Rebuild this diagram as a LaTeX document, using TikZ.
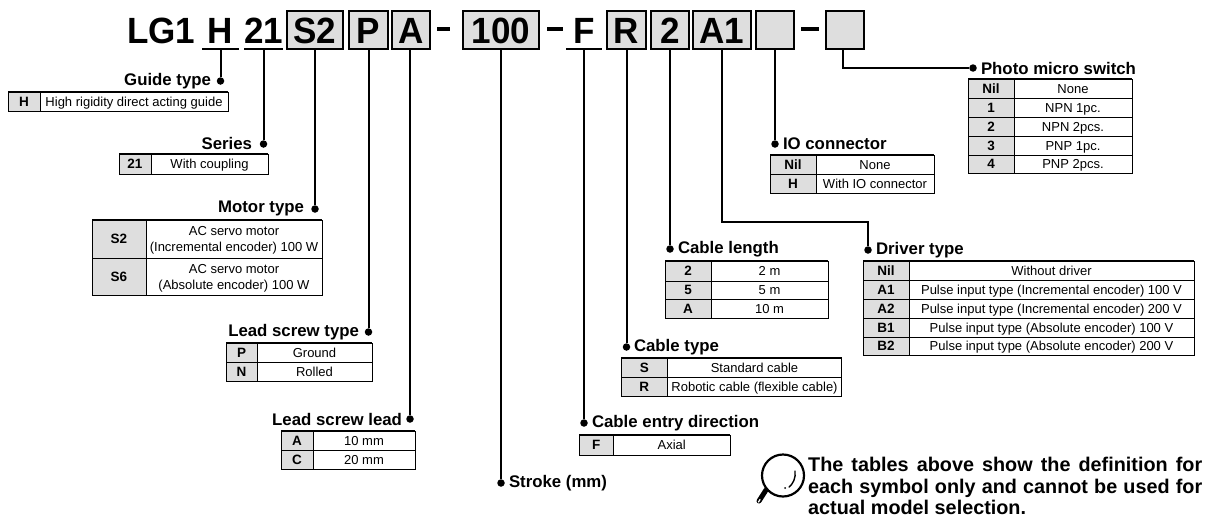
\documentclass[tikz,border=0pt]{standalone}
\usepackage{fontspec}
\setmainfont{Liberation Sans}
\newfontfamily\codefont{Liberation Sans}[FakeStretch=0.96]
\definecolor{keygray}{HTML}{DEDEDE}
\newcommand{\tsz}[2]{\fontsize{#1}{#2}\selectfont}
\newcommand{\rowstrut}{\rule[-2.6pt]{0pt}{14.6pt}}
\newcommand{\codestrut}{\rule[-4pt]{0pt}{34pt}}
\tikzset{
  code/.style={font=\codefont\bfseries\tsz{36.5}{38}, inner sep=0pt, outer sep=0pt},
  codebox/.style={code, draw=black, fill=keygray, line width=1.9pt},
  heading/.style={font=\bfseries\tsz{16.8}{18}, inner sep=0pt, outer sep=0pt},
  conn/.style={line width=2pt, black},
  dotmark/.style={circle, fill=black, inner sep=0pt, minimum size=7.5pt, outer sep=0pt},
  keycell/.style={draw=black, fill=keygray, line width=1pt, inner sep=0pt, outer sep=0pt, font=\bfseries\tsz{13.5}{15}},
  valcell/.style={draw=black, fill=white, line width=1pt, inner sep=0pt, outer sep=0pt, font=\tsz{13}{16}, align=center},
  topline/.style={line width=2pt, black},
  dashbar/.style={line width=3.2pt, black}
}
% \codeat{name}{x0}{x1}{y0}{y1}{style}{text}
\newcommand{\codeat}[7]{%
  \node[#6, minimum width={(#2-#1)*1pt}, minimum height={(#4-#3)*1pt}] (#5) at ({(#1+#2)/2},{(#3+#4)/2}) {\codestrut #7};}
% \trow{name}{x0}{xdiv}{x1}{ya}{yb}{key}{value}
\newcommand{\trow}[8]{%
  \node[keycell, minimum width={(#3-#2)*1pt}, minimum height={(#6-#5)*1pt}] (#1k) at ({(#2+#3)/2},{(#5+#6)/2}) {\rowstrut #7};
  \node[valcell, minimum width={(#4-#3)*1pt}, minimum height={(#6-#5)*1pt}] (#1v) at ({(#3+#4)/2},{(#5+#6)/2}) {\rowstrut #8\rowstrut};}
\begin{document}
\begin{tikzpicture}[x=1pt,y=-1pt]
\useasboundingbox (0,0) rectangle (1206,515);

% model code
\node[code, anchor=base west] (lg) at (127,43) {LG1};
\codeat{202}{239}{11}{49}{boxH}{code}{H}
\codeat{245}{282}{11}{49}{box21}{code}{21}
\codeat{287}{343}{11}{49}{boxS}{codebox}{S2}
\codeat{349}{388}{11}{49}{boxP}{codebox}{P}
\codeat{392}{430}{11}{49}{boxA}{codebox}{A}
\codeat{463}{539}{11}{49}{boxC}{codebox}{100}
\codeat{566}{602}{11}{49}{boxF}{code}{F}
\codeat{607}{646}{11}{49}{boxR}{codebox}{R}
\codeat{651}{689}{11}{49}{boxL}{codebox}{2}
\codeat{693}{751}{11}{49}{boxD}{codebox}{A1}
\codeat{756}{794}{11}{49}{boxI}{codebox}{}
\codeat{826}{864}{11}{49}{boxM}{codebox}{}

\draw[conn, line width=1.3pt] (boxH.south west) -- (boxH.south east);
\draw[conn, line width=1.3pt] (box21.south west) -- (box21.south east);
\draw[conn, line width=1.3pt] (boxF.south west) -- (boxF.south east);

% dashes
\coordinate (d1a) at (437,29); \coordinate (d1b) at (450,29);
\coordinate (d2a) at (547,29); \coordinate (d2b) at (563,29);
\coordinate (d3a) at (801,29); \coordinate (d3b) at (819,29);
\draw[dashbar] (d1a) -- (d1b);
\draw[dashbar] (d2a) -- (d2b);
\draw[dashbar] (d3a) -- (d3b);

% headings and dots
\node[heading, anchor=east] (hGuide) at (211,81) {Guide type};
\node[dotmark] (dGuide) at (220.5,81) {};
\node[heading, anchor=east] (hSeries) at (252,143.5) {Series};
\node[dotmark] (dSeries) at (263.5,144) {};
\node[heading, anchor=east] (hMotor) at (304,208) {Motor type};
\node[dotmark] (dMotor) at (315,209) {};
\node[heading, anchor=east] (hLtype) at (359,332) {Lead screw type};
\node[dotmark] (dLtype) at (368.5,332) {};
\node[heading, anchor=east] (hLlead) at (402,419) {Lead screw lead};
\node[dotmark] (dLlead) at (410,419) {};
\node[dotmark] (dStroke) at (501,483) {};
\node[heading, anchor=west] (hStroke) at (509,483) {Stroke (mm)};
\node[dotmark] (dEntry) at (584,423) {};
\node[heading, anchor=west] (hEntry) at (592,423) {Cable entry direction};
\node[dotmark] (dCtype) at (626.5,347) {};
\node[heading, anchor=west] (hCtype) at (634,347) {Cable type};
\node[dotmark] (dClen) at (670,249) {};
\node[heading, anchor=west] (hClen) at (678,249) {Cable length};
\node[dotmark] (dDrv) at (868,250) {};
\node[heading, anchor=west] (hDrv) at (876,250) {Driver type};
\node[dotmark] (dIO) at (775,144) {};
\node[heading, anchor=west] (hIO) at (783,144) {IO connector};
\node[dotmark] (dPho) at (973,68) {};
\node[heading, anchor=west] (hPho) at (981,68) {Photo micro switch};

% connectors
\draw[conn] (boxH.south) -- (dGuide);
\draw[conn] (box21.south) -- (dSeries);
\draw[conn] (boxS.south) -- (dMotor);
\draw[conn] (boxP.south) -- (dLtype);
\draw[conn] (dLlead |- boxA.south) -- (dLlead);
\draw[conn] (boxC.south) -- (dStroke);
\draw[conn] (boxF.south) -- (dEntry);
\draw[conn] (boxR.south) -- (dCtype);
\draw[conn] (boxL.south) -- (dClen);
\coordinate (cD) at (boxD.south |- 0,222);
\coordinate (cE) at (dDrv |- 0,222);
\draw[conn] (boxD.south) -- (cD) -- (cE) -- (dDrv);
\draw[conn] (boxI.south) -- (dIO);
\coordinate (cM) at (843,49);
\coordinate (cN) at (843,68);
\draw[conn] (cM) -- (cN) -- (dPho);

% tables
\trow{g1}{8}{40}{228}{92}{111}{H}{High rigidity direct acting guide}
\draw[topline] (g1k.north west) -- (g1v.north east);

\trow{s1}{119}{151}{268}{154}{174}{21}{With coupling}
\draw[topline] (s1k.north west) -- (s1v.north east);

\trow{m1}{92}{146}{322}{220}{258}{S2}{AC servo motor\\(Incremental encoder) 100 W}
\trow{m2}{92}{146}{322}{258}{295}{S6}{AC servo motor\\(Absolute encoder) 100 W}
\draw[topline] (m1k.north west) -- (m1v.north east);

\trow{p1}{226}{257}{372}{343}{362}{P}{Ground}
\trow{p2}{226}{257}{372}{362}{381}{N}{Rolled}
\draw[topline] (p1k.north west) -- (p1v.north east);

\trow{a1}{281}{313}{415}{431}{450}{A}{10 mm}
\trow{a2}{281}{313}{415}{450}{469}{C}{20 mm}
\draw[topline] (a1k.north west) -- (a1v.north east);

\trow{e1}{579}{613.5}{730}{435}{455}{F}{Axial}
\draw[topline] (e1k.north west) -- (e1v.north east);

\trow{c1}{621}{667.5}{841.5}{358}{377}{S}{Standard cable}
\trow{c2}{621}{667.5}{841.5}{377}{396}{R}{Robotic cable (flexible cable)}
\draw[topline] (c1k.north west) -- (c1v.north east);

\trow{l1}{665}{711}{828}{261}{281}{2}{2 m}
\trow{l2}{665}{711}{828}{281}{299}{5}{5 m}
\trow{l3}{665}{711}{828}{299}{318}{A}{10 m}
\draw[topline] (l1k.north west) -- (l1v.north east);

\trow{r1}{863}{909}{1194}{261}{280}{Nil}{Without driver}
\trow{r2}{863}{909}{1194}{280}{299}{A1}{Pulse input type (Incremental encoder) 100 V}
\trow{r3}{863}{909}{1194}{299}{318}{A2}{Pulse input type (Incremental encoder) 200 V}
\trow{r4}{863}{909}{1194}{318}{337}{B1}{Pulse input type (Absolute encoder) 100 V}
\trow{r5}{863}{909}{1194}{337}{355}{B2}{Pulse input type (Absolute encoder) 200 V}
\draw[topline] (r1k.north west) -- (r1v.north east);

\trow{i1}{770}{816}{934}{155}{174}{Nil}{None}
\trow{i2}{770}{816}{934}{174}{193}{H}{With IO connector}
\draw[topline] (i1k.north west) -- (i1v.north east);

\trow{h1}{968}{1014}{1132}{79}{98.5}{Nil}{None}
\trow{h2}{968}{1014}{1132}{98.5}{117}{1}{NPN 1pc.}
\trow{h3}{968}{1014}{1132}{117}{136}{2}{NPN 2pcs.}
\trow{h4}{968}{1014}{1132}{136}{155}{3}{PNP 1pc.}
\trow{h5}{968}{1014}{1132}{155}{173}{4}{PNP 2pcs.}
\draw[topline] (h1k.north west) -- (h1v.north east);

% magnifier
\draw[line width=2.2pt] (783,475.5) circle (21);
\draw[line width=5pt, line cap=round] (766,490) -- (759,501);
\draw[white, line width=1.3pt, line cap=round] (760,499.5) -- (758.5,502);
\draw[line width=1.4pt, line cap=round] (795,471) .. controls (796,478) and (793,484) .. (789,487);
\fill (785,488) circle (1);

% note
\node[anchor=base west, inner sep=0pt, align=left, font=\bfseries\tsz{19.8}{21.5}] (note) at (808,514.5)
 {\makebox[394pt][s]{The tables above show the definition for}\\
  \makebox[394pt][s]{each symbol only and cannot be used for}\\
  actual model selection.};
\end{tikzpicture}
\end{document}
